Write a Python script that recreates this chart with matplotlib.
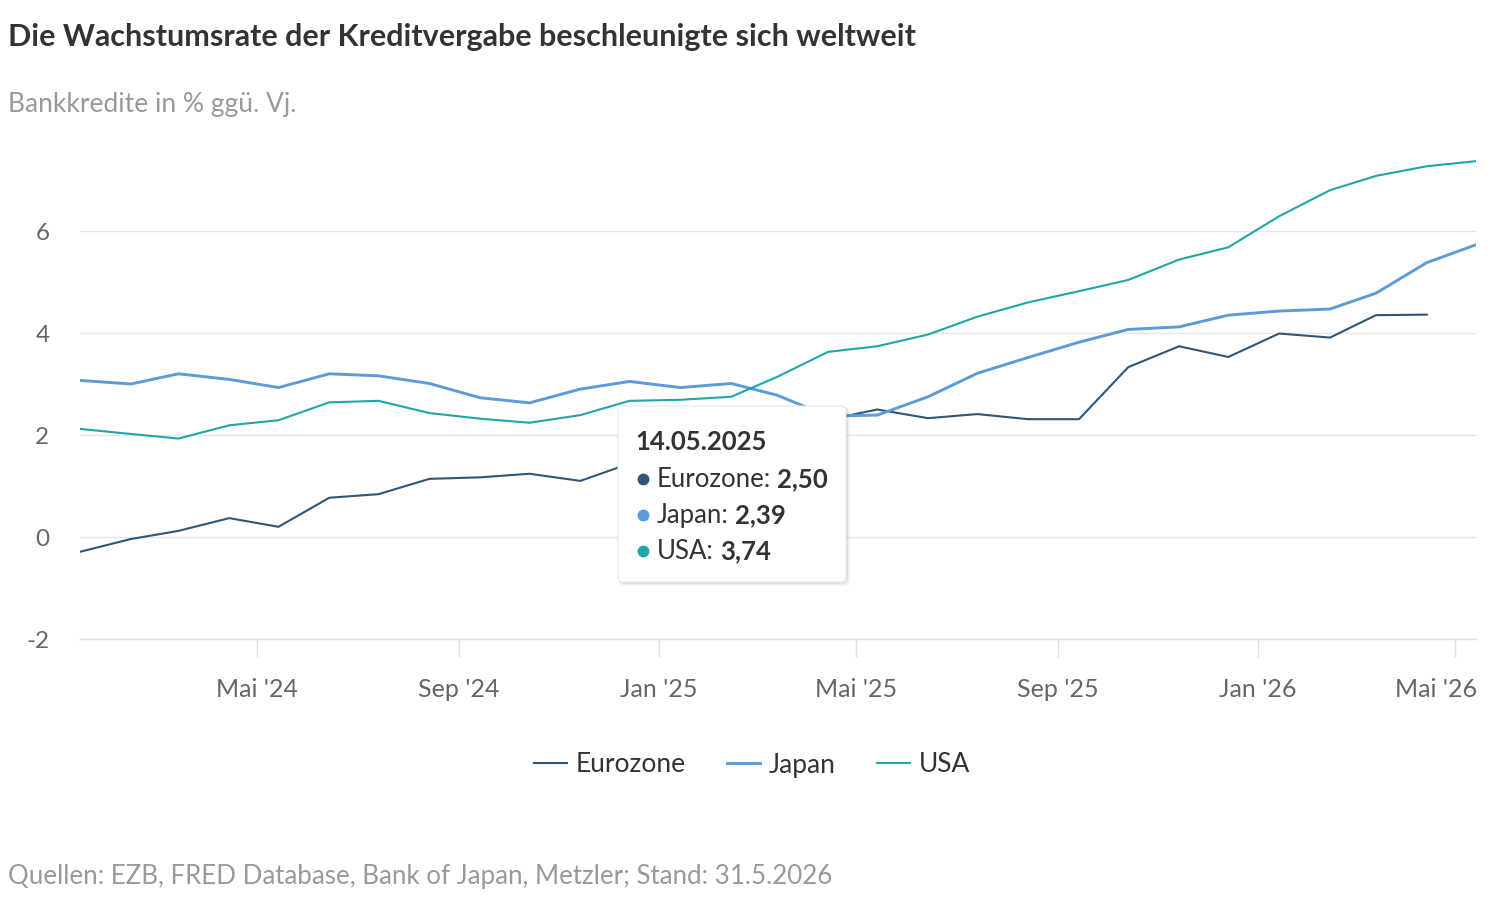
import matplotlib
matplotlib.use("Agg")
import matplotlib.pyplot as plt
from matplotlib.patches import FancyBboxPatch
from matplotlib.lines import Line2D
from matplotlib.transforms import ScaledTranslation
import numpy as np
import pandas as pd

plt.rcParams['font.family'] = ['Lato', 'DejaVu Sans']

# ---------------- data ----------------
dates = pd.date_range("2024-01-01", periods=29, freq="MS") + pd.Timedelta(days=13)
eurozone = [-0.29, -0.04, 0.12, 0.37, 0.20, 0.77, 0.84, 1.14, 1.17, 1.24, 1.10, 1.44,
            1.55, 1.75, 2.05, 2.30, 2.50, 2.33, 2.41, 2.31, 2.31, 3.33, 3.74, 3.53,
            3.99, 3.91, 4.35, 4.36, np.nan]
japan = [3.07, 3.00, 3.20, 3.09, 2.93, 3.20, 3.16, 3.01, 2.73, 2.63, 2.90, 3.05,
         2.93, 3.01, 2.78, 2.37, 2.39, 2.75, 3.21, 3.52, 3.82, 4.07, 4.12, 4.35,
         4.43, 4.47, 4.78, 5.38, 5.73]
usa = [2.12, 2.02, 1.93, 2.19, 2.29, 2.64, 2.67, 2.43, 2.32, 2.24, 2.39, 2.67,
       2.69, 2.75, 3.14, 3.63, 3.74, 3.97, 4.32, 4.60, 4.82, 5.04, 5.44, 5.68,
       6.29, 6.80, 7.08, 7.27, 7.37]
series_names = ["Eurozone", "Japan", "USA"]
colors = ["#2f5677", "#5b9bd8", "#1fa5aa"]
yticks = [-2, 0, 2, 4, 6]
xtick_dates = pd.to_datetime(["2024-05-01", "2024-09-01", "2025-01-01", "2025-05-01",
                              "2025-09-01", "2026-01-01", "2026-05-01"])
xtick_labels = ["Mai '24", "Sep '24", "Jan '25", "Mai '25", "Sep '25", "Jan '26", "Mai '26"]
tooltip_date = "14.05.2025"
tooltip_values = ["2,50", "2,39", "3,74"]

title = "Die Wachstumsrate der Kreditvergabe beschleunigte sich weltweit"
subtitle = "Bankkredite in % ggü. Vj."
source = "Quellen: EZB, FRED Database, Bank of Japan, Metzler; Stand: 31.5.2026"

# ---------------- figure ----------------
W, H = 1490, 908
fig = plt.figure(figsize=(W / 100, H / 100), dpi=100)

def fx(px):
    return px / W

def fy(py):
    return 1 - py / H

ax_left, ax_right, ax_top, ax_bottom = 80, 1476, 150, 639
ax = fig.add_axes([fx(ax_left), fy(ax_bottom), fx(ax_right - ax_left), (ax_bottom - ax_top) / H])

series = [eurozone, japan, usa]
lws = [1.5, 2.1, 1.5]
for name, vals, c, lw in zip(series_names, series, colors, lws):
    ax.plot(dates, vals, color=c, lw=lw, label=name, solid_joinstyle="round", zorder=3)

ax.set_xlim(dates[0], dates[-1])
ax.set_ylim(-2, -2 + (ax_bottom - ax_top) / 51.0)

ax.set_yticks(yticks)
ax.set_yticklabels([str(v) for v in yticks])
ax.grid(axis="y", color="#e6e6e6", lw=1.0)
ax.set_axisbelow(True)
ax.tick_params(axis="y", length=0, pad=22, labelsize=17.5, labelcolor="#666666")

ax.set_xticks(xtick_dates)
ax.set_xticklabels(xtick_labels)
ax.tick_params(axis="x", length=13, width=1.0, color="#e0e0e0", pad=15,
               labelsize=18, labelcolor="#666666")

for s in ["top", "right", "left"]:
    ax.spines[s].set_visible(False)
ax.spines["bottom"].set_color("#e0e0e0")
ax.spines["bottom"].set_linewidth(1.0)

# shift last tick label so it ends at the plot edge
last = ax.get_xticklabels()[-1]
last.set_horizontalalignment("right")
last.set_transform(last.get_transform() + ScaledTranslation(0.225, 0, fig.dpi_scale_trans))

# ---------------- texts ----------------
fig.text(fx(8), fy(46), title, fontsize=22, fontweight="bold", color="#333333", va="baseline")
fig.text(fx(8), fy(112), subtitle, fontsize=19, color="#999999", va="baseline")
fig.text(fx(8), fy(884), source, fontsize=18.6, color="#999999", va="baseline")

# ---------------- legend ----------------
leg = ax.legend(loc="center", bbox_to_anchor=(fx(752), fy(765)), bbox_transform=fig.transFigure,
                ncol=3, frameon=False, fontsize=19, handlelength=1.25, handletextpad=0.35,
                columnspacing=1.55)
for t in leg.get_texts():
    t.set_color("#333333")

# ---------------- tooltip ----------------
bx0, by0, bx1, by1 = 618, 406, 846, 582
for i, a in enumerate([0.05, 0.04, 0.03]):
    off = 1 + i
    sh = FancyBboxPatch((fx(bx0 + 1), fy(by1 + off + 1)), fx(bx1 - bx0 + off), (by1 - by0 + off) / H,
                        boxstyle="round,pad=0,rounding_size=%f" % fx(6),
                        mutation_aspect=W / H, transform=fig.transFigure,
                        facecolor="black", edgecolor="none", alpha=a, zorder=9)
    fig.add_artist(sh)
box = FancyBboxPatch((fx(bx0), fy(by1)), fx(bx1 - bx0), (by1 - by0) / H,
                     boxstyle="round,pad=0,rounding_size=%f" % fx(5),
                     mutation_aspect=W / H, transform=fig.transFigure,
                     facecolor="white", edgecolor="#e8e8e8", lw=0.8, zorder=10)
fig.add_artist(box)
fig.text(fx(635), fy(450), tooltip_date, fontsize=18.5, fontweight="bold", color="#333333",
         va="baseline", zorder=11)
renderer = fig.canvas.get_renderer()
for i, (name, val, c) in enumerate(zip(series_names, tooltip_values, colors)):
    ybase = 487 + i * 36
    fig.add_artist(Line2D([fx(643)], [fy(ybase - 8)], marker="o", markersize=7.5, color=c,
                          transform=fig.transFigure, zorder=11))
    t1 = fig.text(fx(657), fy(ybase), name + ":", fontsize=18.5, color="#333333",
                  va="baseline", zorder=11)
    x1 = t1.get_window_extent(renderer=renderer).x1
    fig.text(fx(x1 + 6), fy(ybase), val, fontsize=18.5, fontweight="bold",
             color="#333333", va="baseline", zorder=11)

fig.savefig("out.png", dpi=100)
